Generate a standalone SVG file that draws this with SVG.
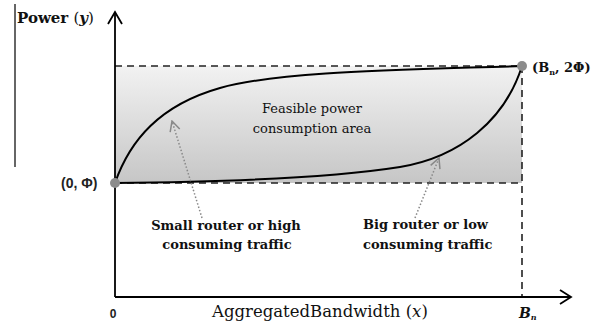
<svg xmlns="http://www.w3.org/2000/svg" width="606" height="330" viewBox="0 0 606 330">
  <defs>
    <linearGradient id="shade" x1="0" y1="0" x2="0" y2="1">
      <stop offset="0" stop-color="#f2f2f2"/>
      <stop offset="1" stop-color="#c6c6c6"/>
    </linearGradient>
    <marker id="openArrow" viewBox="0 0 12 12" refX="11" refY="6" markerWidth="12" markerHeight="12" markerUnits="userSpaceOnUse" orient="auto">
      <path d="M1,1 L11,6 L1,11" fill="none" stroke="#888" stroke-width="1.5"/>
    </marker>
  </defs>
  <style>
    .axis { stroke: #000; stroke-width: 1.8; fill: none; }
    .dash { stroke: #222; stroke-width: 1.6; stroke-dasharray: 7 5; fill: none; }
    .curve { stroke: #000; stroke-width: 2; fill: none; }
    .pointer { stroke: #888; stroke-width: 1.5; stroke-dasharray: 1.5 2; fill: none; }
    .dot { fill: #8c8c8c; }
    .serif { font-family: "DejaVu Serif", "Liberation Serif", serif; fill: #111; }
    .bold { font-weight: bold; }
    .sans { font-family: "Liberation Sans", Arial, sans-serif; font-weight: bold; fill: #222; }
  </style>

  <g id="left-rule">
    <line x1="15" y1="4" x2="15" y2="167" stroke="#333" stroke-width="1.5"/>
  </g>

  <g id="feasible-area">
    <rect x="115" y="66" width="407" height="117" fill="url(#shade)"/>
    <text class="serif" x="312" y="113" font-size="13" text-anchor="middle">Feasible power</text>
    <text class="serif" x="312" y="133" font-size="13" text-anchor="middle">consumption area</text>
  </g>

  <g id="connectors">
    <line class="dash" x1="115" y1="66" x2="522" y2="66"/>
    <line class="dash" x1="115" y1="183" x2="522" y2="183"/>
    <line class="dash" x1="522" y1="66" x2="522" y2="297"/>
    <path id="upper-curve" class="curve" d="M115,183 C130,140 160,105 220,88 S400,70 522,66"/>
    <path id="lower-curve" class="curve" d="M115,183 C230,182 330,178 400,167 C460,157 505,120 522,66"/>
    <path class="pointer" d="M202,218 L172,121" marker-end="url(#openArrow)"/>
    <path class="pointer" d="M415,218 L439,158" marker-end="url(#openArrow)"/>
  </g>

  <g id="y-axis">
    <line class="axis" x1="115" y1="297" x2="115" y2="12"/>
    <path class="axis" d="M108,24 L115,12 L122,24"/>
    <text class="serif bold" x="17" y="23" font-size="15">Power <tspan font-weight="normal">(</tspan><tspan font-style="italic">y</tspan><tspan font-weight="normal">)</tspan></text>
  </g>

  <g id="x-axis">
    <line class="axis" x1="115" y1="297" x2="571" y2="297"/>
    <path class="axis" d="M560,290 L571,297 L560,304"/>
    <text class="sans" x="113" y="318" font-size="12" text-anchor="middle">0</text>
    <text class="serif" x="212" y="317" font-size="16.5">AggregatedBandwidth (<tspan font-style="italic">x</tspan>)</text>
    <text class="serif bold" x="519" y="318" font-size="14" font-style="italic">B<tspan font-size="8" dy="2">n</tspan></text>
  </g>

  <g id="point-origin">
    <circle class="dot" cx="115" cy="183" r="5"/>
    <text class="sans" x="61" y="188" font-size="14">(0, Φ)</text>
  </g>

  <g id="point-max">
    <circle class="dot" cx="522" cy="66" r="5"/>
    <text class="serif bold" x="532" y="72" font-size="13">(B<tspan font-size="8" dy="3">n</tspan><tspan dy="-3">, 2Φ)</tspan></text>
  </g>

  <g id="label-small">
    <text class="serif bold" x="226" y="230" font-size="13" text-anchor="middle">Small router or high</text>
    <text class="serif bold" x="227" y="249" font-size="13" text-anchor="middle">consuming traffic</text>
  </g>

  <g id="label-big">
    <text class="serif bold" x="363" y="229" font-size="13">Big router or low</text>
    <text class="serif bold" x="363" y="249" font-size="13">consuming traffic</text>
  </g>
</svg>
